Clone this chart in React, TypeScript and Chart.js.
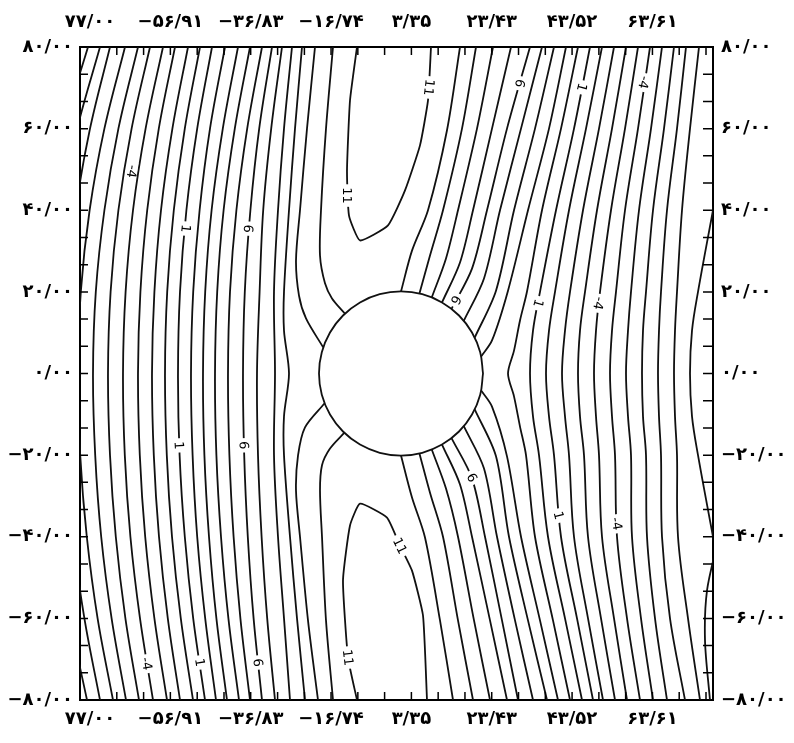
import { useEffect, useRef } from "react";
import Chart from "chart.js/auto";

type Pt = [number, number];

// axis ticks as printed on the figure
const xTickValues = [-77, -56.91, -36.83, -16.74, 3.35, 23.43, 43.52, 63.61];
const xTickLabels = ["۷۷/۰۰", "−۵۶/۹۱", "−۳۶/۸۳", "−۱۶/۷۴", "۳/۳۵", "۲۳/۴۳", "۴۳/۵۲", "۶۳/۶۱"];
const yTickValues = [-80, -60, -40, -20, 0, 20, 40, 60, 80];
const yTickLabels = ["−۸۰/۰۰", "−۶۰/۰۰", "−۴۰/۰۰", "−۲۰/۰۰", "۰/۰۰", "۲۰/۰۰", "۴۰/۰۰", "۶۰/۰۰", "۸۰/۰۰"];
const xMinorTicks = [-70.3, -63.6, -56.91, -50.2, -43.5, -36.83, -30.1, -23.4, -16.74, -10.04, -3.35, 3.35, 10.04, 16.74, 23.43, 30.13, 36.83, 43.52, 50.22, 56.91, 63.61, 70.3, 77];
const yMinorTicks = [73.33, 66.67, 60, 53.33, 46.67, 40, 33.33, 26.67, 20, 13.33, 6.67, 0, -6.67, -13.33, -20, -26.67, -33.33, -40, -46.67, -53.33, -60, -66.67, -73.33];

// left family: x of each contour at these heights
const leftRowY = [80, 60, 40, 20, 0, -20, -40, -60, -80];
const leftLineX = [
  [-77.5, -83.6, -88, -90.6, -91.5, -90.85, -88.9, -85.6, -81],
  [-74.5, -80.2, -84.25, -86.7, -87.5, -86.9, -85.1, -82, -77.75],
  [-72, -77, -80.6, -82.8, -83.5, -82.9, -81.25, -78.4, -74.5],
  [-68.25, -73.4, -77.1, -79.3, -80, -79.45, -77.8, -75.1, -71.25],
  [-65, -69.9, -73.4, -75.55, -76.25, -75.7, -74.2, -71.6, -68],
  [-62, -66.6, -69.9, -71.85, -72.5, -72, -70.55, -68.15, -64.75],
  [-58.75, -63.1, -66.25, -68.1, -68.75, -68.3, -66.9, -64.5, -61.25],
  [-55.75, -59.8, -62.7, -64.4, -65, -64.55, -63.2, -60.9, -57.75],
  [-52.5, -56.4, -59.25, -60.9, -61.5, -61.05, -59.75, -57.55, -54.5],
  [-49.5, -53.3, -56.05, -57.7, -58.25, -57.8, -56.5, -54.3, -51.25],
  [-46.5, -50.2, -52.9, -54.5, -55, -54.6, -53.3, -51.2, -48.25],
  [-43.25, -47, -49.6, -51.2, -51.75, -51.35, -50.2, -48.2, -45.5],
  [-40, -43.8, -46.6, -48.2, -48.75, -48.4, -47.25, -45.4, -42.75],
  [-37, -40.8, -43.6, -45.2, -45.75, -45.4, -44.25, -42.4, -39.75],
  [-34, -37.7, -40.4, -42, -42.5, -42.15, -41.1, -39.4, -37],
  [-31.5, -34.7, -36.9, -38.3, -38.75, -38.45, -37.55, -36.1, -34],
  [-29, -31.7, -33.7, -34.6, -35.25, -35, -34.1, -32.7, -30.75],
  [-26.5, -28.5, -30, -31, -30.75, -31, -30, -28.5, -27],
];

// right family
const rightRowY = [80, 60, 40, 20, 10.5, 0, -10.5, -20, -40, -60, -80];
const rightLineX = [
  [48, 44, 39.5, 35.5, 33.75, 33, 33.75, 35.25, 37.5, 41.75, 46],
  [51, 47, 42.75, 39.25, 37.75, 37, 37.75, 39, 40.75, 44.75, 48.75],
  [54, 50.25, 46.25, 43, 41.75, 41, 41.75, 42.75, 44, 47.5, 51.25],
  [57, 53.5, 49.75, 46.75, 45.5, 45, 45.5, 46.5, 47.5, 50.75, 54.25],
  [60, 56.75, 53.25, 50.5, 49.5, 49, 49.5, 50.25, 51, 54, 57.25],
  [63, 60, 56.75, 54.5, 53.5, 53, 53.5, 54.25, 54.75, 57.25, 60.5],
  [66, 63.25, 60.25, 58.25, 57.5, 57, 57.5, 58.25, 58.5, 60.75, 63.75],
  [69, 66.5, 63.75, 62, 61.25, 61, 61.25, 62, 62.25, 64.25, 67.25],
  [72, 69.75, 67.25, 65.75, 65.25, 65, 65.25, 65.75, 66, 68, 71.75],
  [75.25, 73, 71, 69.75, 69.25, 69, 69.25, 69.75, 70, 72.5, 75.5],
  [85.5, 82.5, 78.75, 75, 73.5, 73, 73.5, 75, 78.75, 82.5, 85.5],
];

// contours that bend next to the cylinder
const bentLines: Pt[][] = [
  [[-24, 80], [-25.75, 60], [-27.25, 40], [-28.5, 20], [-28.5, 10.5], [-27.25, 0], [-28.5, -10.5], [-28.5, -20], [-27, -40], [-25.25, -60], [-23.25, -80]],
  [[45, 80], [40.75, 60], [36, 40], [32.25, 20.1], [30.5, 13], [29, 5.6], [27.5, 0], [29, -5.6], [30.5, -13], [32, -20], [34.25, -40], [38.75, -60.5], [43, -80]],
  [[80, -40.9], [77.25, -53.2], [76.75, -65.4], [78, -80.1]],
];

// contours that end on the cylinder
const cylinderLines: Pt[][] = [
  [[-20.75, 80], [-22.75, 60], [-24.5, 40], [-25.5, 27.7], [-24.75, 19.1], [-23, 13.5], [-18.7, 6.4]],
  [[-16.25, 80], [-18, 60], [-19.25, 40], [-19.5, 28.9], [-18.25, 22.1], [-16.5, 18.4], [-13.3, 14.7]],
  [[-18.4, -7.35], [-23.25, -13.2], [-25, -20.1], [-25.5, -28.7], [-24.5, -40], [-22.5, -60.5], [-20, -80]],
  [[-13.4, -14.5], [-17, -18.4], [-19, -22.5], [-19.5, -28.7], [-19, -40], [-18, -60.5], [-16.25, -80]],
  [[0.75, 20.1], [3.5, 30.1], [7.5, 40], [12.25, 59.6], [15.5, 80]],
  [[5.36, 19.58], [8, 28.9], [11.25, 40], [16, 60], [19.5, 80]],
  [[8.44, 18.63], [12, 28.2], [15, 40], [19.75, 60], [23.75, 80]],
  [[11, 17.41], [15.5, 27.2], [18.75, 40], [23.5, 60], [28.25, 80]],
  [[13.38, 15.84], [18.5, 25.7], [22.25, 40], [27.25, 60], [33, 80]],
  [[16.45, 12.92], [21.5, 23.3], [25.5, 40], [30.75, 60], [36, 80]],
  [[19.18, 8.8], [24.5, 20.3], [29, 40], [34.25, 60], [39, 80]],
  [[20.8, 4.18], [23.5, 8.1], [27.5, 20.3], [32.5, 40], [37.75, 60], [42, 80]],
  [[0.75, -20.1], [3.5, -30.4], [6.75, -40.2], [10.5, -60.5], [13.75, -80]],
  [[5.36, -19.58], [8, -29.2], [11.25, -40], [15, -60.5], [18.75, -80]],
  [[8.44, -18.63], [12, -28.2], [15, -40], [19, -60.5], [23, -80]],
  [[11, -17.41], [15.5, -27.2], [18.5, -40], [23, -60.5], [27.25, -80]],
  [[13.38, -15.84], [18.5, -25.7], [21.75, -40], [26, -60.5], [30, -80]],
  [[16.45, -12.92], [21.5, -23.3], [24.75, -40], [29.25, -60.5], [33.75, -80]],
  [[19.18, -8.8], [24.5, -20.3], [27.75, -40], [32.5, -60.5], [37.25, -80]],
  [[20.8, -4.18], [23.5, -8.1], [27.25, -20.3], [30.75, -40], [35.5, -60.5], [40, -80]],
];

// the two "11" pockets above and below the cylinder
const pocketLines: Pt[][] = [
  [[-10.25, 80], [-12, 66.9], [-12.75, 49.75], [-12.25, 38.7], [-9.5, 32.6], [-2.5, 36.3], [1.75, 44.85], [5.5, 55.9], [7.5, 66.9], [8.25, 80]],
  [[-10.25, -80], [-12.5, -69.6], [-13.75, -50.7], [-12, -37.25], [-9.5, -31.9], [-2.75, -35.3], [0.5, -42.2], [3.5, -48.3], [6.25, -59.3], [7.25, -80]],
];

// cylinder outline
const cylinder: Pt[] = [
  [21.25, 0], [20.55, 5.2], [18.5, 10.05], [15.25, 14.21], [11, 17.41], [6.06, 19.42], [0.75, 20.1],
  [-4.56, 19.42], [-9.5, 17.41], [-13.75, 14.21], [-17, 10.05], [-19.05, 5.2], [-19.75, 0],
  [-19.05, -5.2], [-17, -10.05], [-13.75, -14.21], [-9.5, -17.41], [-4.56, -19.42], [0.75, -20.1],
  [6.06, -19.42], [11, -17.41], [15.25, -14.21], [18.5, -10.05], [20.55, -5.2], [21.25, 0],
];

const contourLabels = [
  { text: "-4", x: -66.5, y: 49.5 },
  { text: "1", x: -53, y: 35.5 },
  { text: "6", x: -37.4, y: 35.5 },
  { text: "11", x: -12.6, y: 43.6 },
  { text: "11", x: 7.8, y: 70.1 },
  { text: "6", x: 30.5, y: 71.1 },
  { text: "1", x: 46, y: 70.1 },
  { text: "-4", x: 61.5, y: 71.3 },
  { text: "6", x: 14.5, y: 18 },
  { text: "1", x: 35.1, y: 17.2 },
  { text: "-4", x: 50.2, y: 17.2 },
  { text: "1", x: -54.7, y: -17.6 },
  { text: "6", x: -38.5, y: -17.6 },
  { text: "11", x: 0.5, y: -42.2 },
  { text: "-4", x: -62.8, y: -71.1 },
  { text: "1", x: -49.5, y: -70.8 },
  { text: "6", x: -35, y: -70.8 },
  { text: "11", x: -12.5, y: -69.6 },
  { text: "6", x: 18.5, y: -25.5 },
  { text: "1", x: 40.2, y: -34.8 },
  { text: "-4", x: 54.7, y: -36.8 },
];
const labelTurns = [99, 96, 94, 90, 96, 104, 104, 102, 118, 105, 101, 87, 88, 64, 80, 81, 83, 83, 62, 76, 80];

const tickFont = { family: "'DejaVu Sans', sans-serif", size: 18, weight: "bold" as const };

const toPoints = (pts: Pt[]) => pts.map(([x, y]) => ({ x, y }));

const lineStyle = {
  showLine: true,
  borderColor: "#111",
  borderWidth: 1.8,
  pointRadius: 0,
  fill: false,
};

const decor = {
  id: "decor",
  afterDatasetsDraw(chart: Chart) {
    const { ctx, chartArea: a } = chart;
    const xs = chart.scales.x;
    const ys = chart.scales.y;
    ctx.save();
    ctx.strokeStyle = "#000";
    ctx.lineWidth = 1.5;
    ctx.beginPath();
    for (const v of yMinorTicks) {
      const p = ys.getPixelForValue(v);
      ctx.moveTo(a.left, p);
      ctx.lineTo(a.left + 8, p);
      ctx.moveTo(a.right, p);
      ctx.lineTo(a.right - 10, p);
    }
    for (const v of xMinorTicks) {
      const p = xs.getPixelForValue(v);
      ctx.moveTo(p, a.top);
      ctx.lineTo(p, a.top + 8);
      ctx.moveTo(p, a.bottom);
      ctx.lineTo(p, a.bottom - 8);
    }
    ctx.stroke();

    ctx.font = "13px 'DejaVu Sans', sans-serif";
    ctx.textAlign = "center";
    ctx.textBaseline = "middle";
    contourLabels.forEach((l, i) => {
      ctx.save();
      ctx.translate(xs.getPixelForValue(l.x), ys.getPixelForValue(l.y));
      ctx.rotate((labelTurns[i] * Math.PI) / 180);
      const w = ctx.measureText(l.text).width + 6;
      ctx.fillStyle = "#fff";
      ctx.fillRect(-w / 2, -5, w, 10);
      ctx.fillStyle = "#000";
      ctx.fillText(l.text, 0, 1);
      ctx.restore();
    });
    ctx.restore();
  },
};

const App = () => {
  const chartRef = useRef<HTMLCanvasElement>(null);
  const chartInstance = useRef<Chart | null>(null);

  useEffect(() => {
    if (!chartRef.current) return;
    const ctx = chartRef.current.getContext("2d");
    if (!ctx) return;
    if (chartInstance.current) chartInstance.current.destroy();

    const datasets = [
      ...leftLineX.map((xs) => ({ ...lineStyle, tension: 0.35, data: xs.map((x, i) => ({ x, y: leftRowY[i] })) })),
      ...rightLineX.map((xs) => ({ ...lineStyle, tension: 0.35, data: xs.map((x, i) => ({ x, y: rightRowY[i] })) })),
      ...bentLines.map((l) => ({ ...lineStyle, tension: 0.3, data: toPoints(l) })),
      ...cylinderLines.map((l) => ({ ...lineStyle, tension: 0.3, data: toPoints(l) })),
      ...pocketLines.map((l) => ({ ...lineStyle, tension: 0.15, data: toPoints(l) })),
      { ...lineStyle, tension: 0.4, data: toPoints(cylinder) },
    ];

    const xAxis = (position: "top" | "bottom", height: number, padding: number) => ({
      type: "linear" as const,
      axis: "x" as const,
      position,
      min: -79.5,
      max: 78.75,
      afterBuildTicks: (s: any) => {
        s.ticks = xTickValues.map((value) => ({ value }));
      },
      afterFit: (s: any) => {
        s.height = height;
      },
      ticks: {
        autoSkip: false,
        maxRotation: 0,
        padding,
        color: "#000",
        font: tickFont,
        callback: (_v: any, i: number) => xTickLabels[i],
      },
      grid: { display: false, drawTicks: false },
      border: { display: true, color: "#000", width: 2 },
    });

    const yAxis = (position: "left" | "right", width: number, padding: number) => ({
      type: "linear" as const,
      axis: "y" as const,
      position,
      min: -80,
      max: 80,
      afterBuildTicks: (s: any) => {
        s.ticks = yTickValues.map((value) => ({ value }));
      },
      afterFit: (s: any) => {
        s.width = width;
      },
      ticks: {
        autoSkip: false,
        padding,
        color: "#000",
        font: tickFont,
        callback: (_v: any, i: number) => yTickLabels[i],
      },
      grid: { display: false, drawTicks: false },
      border: { display: true, color: "#000", width: 2 },
    });

    chartInstance.current = new Chart(ctx, {
      type: "scatter",
      data: { datasets },
      options: {
        animation: false,
        responsive: false,
        devicePixelRatio: 1,
        layout: { padding: 0 },
        plugins: { legend: { display: false }, tooltip: { enabled: false } },
        scales: {
          x: xAxis("bottom", 43, 9),
          x2: xAxis("top", 47, 14),
          y: yAxis("left", 80, 7),
          y2: yAxis("right", 81, 8),
        },
      },
      plugins: [decor],
    } as any);

    return () => {
      chartInstance.current?.destroy();
      chartInstance.current = null;
    };
  }, []);

  return (
    <div style={{ position: "absolute", left: 0, top: 0, width: 794, height: 743, background: "#fff" }}>
      <canvas ref={chartRef} width={794} height={743} />
    </div>
  );
};

export default App;
